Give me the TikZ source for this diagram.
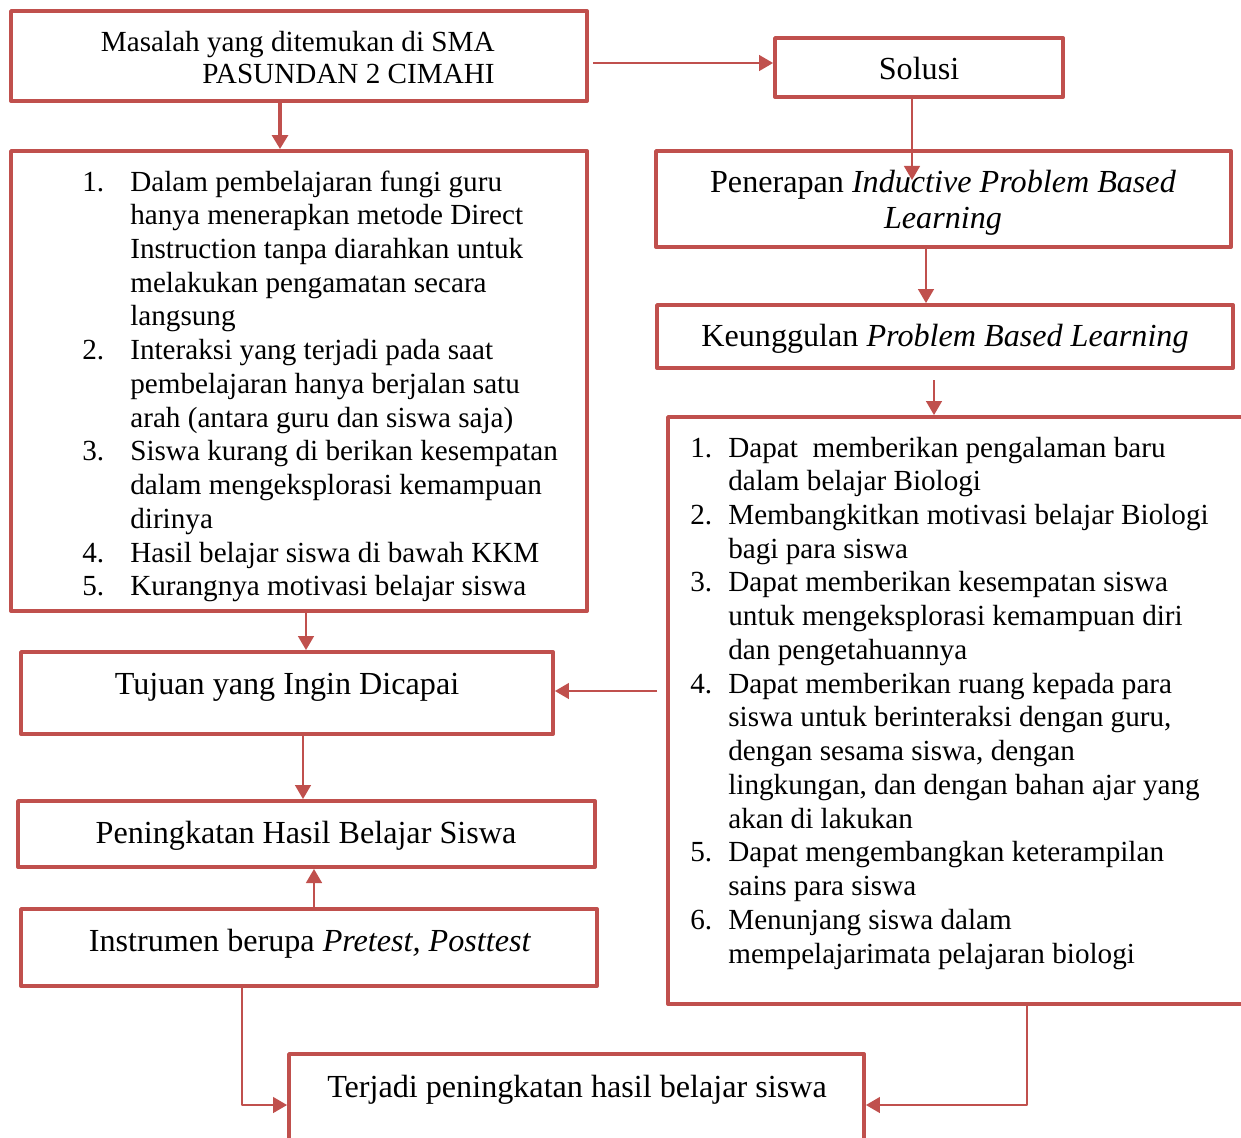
\documentclass[tikz,border=0pt]{standalone}
\usepackage{fontspec}
\setmainfont{Liberation Serif}
\usetikzlibrary{arrows.meta,fit}
\definecolor{boxred}{HTML}{C0504D}

\begin{document}
\begin{tikzpicture}[x=0.02cm, y=-0.02cm, font=\fontsize{16.6}{19.2}\selectfont, line join=round,
	box/.style={draw=boxred, line width=2.2pt, inner sep=0pt, fit={#1}},
	arr/.style={draw=boxred, line width=1.2pt, -{Triangle[length=8pt,width=9pt]}},
	thickarr/.style={arr, line width=2.2pt},
	txt/.style={inner sep=0pt, anchor=mid, font=\fontsize{18.3}{20.5}\selectfont}]
	\useasboundingbox (0,0) rectangle (1241,1137);
	\clip (0,0) rectangle (1241,1137);
	% boxes
	\node[box={(11,11) (587,101)}] (masalah) {};
	\node[box={(775,38) (1063,97)}] (solusi) {};
	\node[box={(656,151) (1231,247)}] (penerapan) {};
	\node[box={(657,305) (1233,368)}] (keunggulan) {};
	\node[box={(668,417) (1246,1004)}] (benefits) {};
	\node[box={(11,151) (587,611)}] (problems) {};
	\node[box={(21,652) (553,734)}] (tujuan) {};
	\node[box={(18,801) (595,867)}] (peningkatan) {};
	\node[box={(21,909) (597,986)}] (instrumen) {};
	\node[box={(289,1054) (864,1156)}] (terjadi) {};
	% texts
	\node[inner sep=0pt, align=right, anchor=east, font=\fontsize{16.6}{18.2}\selectfont] (masalahtxt) at (495,58) {Masalah yang ditemukan di SMA\\PASUNDAN 2 CIMAHI};
	\node[txt] (solusitxt) at (919,75) {Solusi};
	\node[txt, anchor=center, align=center] (penerapantxt) at (943,203) {Penerapan \textit{Inductive Problem Based}\\\textit{Learning}};
	\node[txt] (keunggulantxt) at (945,342) {Keunggulan \textit{Problem Based Learning}};
	\node[txt] (tujuantxt) at (287,690) {Tujuan yang Ingin Dicapai};
	\node[txt] (peningkatantxt) at (306,839) {Peningkatan Hasil Belajar Siswa};
	\node[txt] (instrumentxt) at (310,947) {Instrumen berupa \textit{Pretest, Posttest}};
	\node[txt] (terjaditxt) at (577,1093) {Terjadi peningkatan hasil belajar siswa};
	\node[inner sep=0pt, anchor=mid west] (problemstxt) at (82,187) {%
		\begin{tabular}[t]{@{}p{0.96cm}@{}l@{}}
			1. & Dalam pembelajaran fungi guru\\
			   & hanya menerapkan metode Direct\\
			   & Instruction tanpa diarahkan untuk\\
			   & melakukan pengamatan secara\\
			   & langsung\\
			2. & Interaksi yang terjadi pada saat\\
			   & pembelajaran hanya berjalan satu\\
			   & arah (antara guru dan siswa saja)\\
			3. & Siswa kurang di berikan kesempatan\\
			   & dalam mengeksplorasi kemampuan\\
			   & dirinya\\
			4. & Hasil belajar siswa di bawah KKM\\
			5. & Kurangnya motivasi belajar siswa
		\end{tabular}};
	\node[inner sep=0pt, anchor=mid west] (benefitstxt) at (690,453) {%
		\begin{tabular}[t]{@{}p{0.76cm}@{}l@{}}
			1. & Dapat\ \ memberikan pengalaman baru\\
			   & dalam belajar Biologi\\
			2. & Membangkitkan motivasi belajar Biologi\\
			   & bagi para siswa\\
			3. & Dapat memberikan kesempatan siswa\\
			   & untuk mengeksplorasi kemampuan diri\\
			   & dan pengetahuannya\\
			4. & Dapat memberikan ruang kepada para\\
			   & siswa untuk berinteraksi dengan guru,\\
			   & dengan sesama siswa, dengan\\
			   & lingkungan, dan dengan bahan ajar yang\\
			   & akan di lakukan\\
			5. & Dapat mengembangkan keterampilan\\
			   & sains para siswa\\
			6. & Menunjang siswa dalam\\
			   & mempelajarimata pelajaran biologi
		\end{tabular}};
	% connectors
	\coordinate (masalahout) at (593,63);
	\coordinate (solusiin) at (912,180);
	\coordinate (benefitsin) at (934,380);
	\coordinate (tujuanin) at (657,691);
	\draw[thickarr] (280,0 |- masalah.south) -- (280,0 |- problems.north);
	\draw[arr] (masalahout) -- (solusi.west |- masalahout);
	\draw[arr] (912,0 |- solusi.south) -- (solusiin);
	\draw[arr] (926,0 |- penerapan.south) -- (926,0 |- keunggulan.north);
	\draw[arr] (benefitsin) -- (934,0 |- benefits.north);
	\draw[arr] (306,0 |- problems.south) -- (306,0 |- tujuan.north);
	\draw[arr] (303,0 |- tujuan.south) -- (303,0 |- peningkatan.north);
	\draw[arr] (314,0 |- instrumen.north) -- (314,0 |- peningkatan.south);
	\draw[arr] (tujuanin) -- (tujuan.east |- tujuanin);
	\draw[arr] (242,0 |- instrumen.south) |- (terjadi.west);
	\draw[arr] (1027,0 |- benefits.south) |- (terjadi.east);
\end{tikzpicture}
\end{document}
